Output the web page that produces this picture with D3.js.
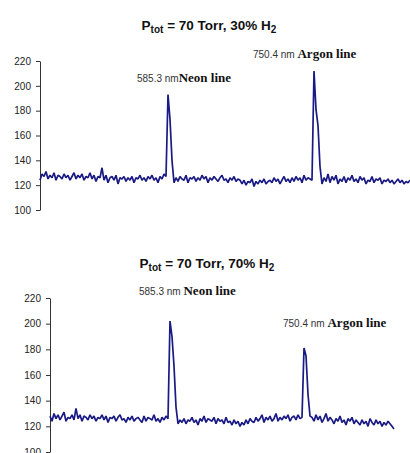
<!DOCTYPE html>
<html>
<head>
<meta charset="utf-8">
<script src="https://cdn.jsdelivr.net/npm/d3@7"></script>
<style>
  body { margin: 0; background: #fff; }
  svg { display: block; }
  .tick text { font-family: "Liberation Sans", Arial, sans-serif; font-size: 10px; fill: #222; }
  .domain, .tick line { stroke: #333; }
</style>
</head>
<body>
<svg id="chart" width="410" height="453"></svg>
<script>
// y ticks shared by both panels
const yTicks = [100, 120, 140, 160, 180, 200, 220];

// top panel: 30% H2 (one value per channel)
const signal30 = [
  124,129,127,131,125,128,126,130,124,128,127,
  125,129,126,128,124,127,130,125,128,126,
  129,124,127,126,130,125,128,123,127,126,
  134,124,128,122,126,
  127,124,128,121,126,125,127,123,126,124,127,122,126,125,128,
  124,126,123,127,125,128,124,126,122,127,125,129,127,
  193,173,140,122,
  126,123,127,125,124,128,122,126,125,127,123,126,124,128,125,127,122,126,124,127,125,123,126,128,124,125,122,126,124,127,123,125,124,
  121,124,120,123,122,125,119,123,121,124,122,125,121,123,124,122,126,123,125,121,124,127,123,125,122,
  126,123,127,124,126,122,128,124,126,125,
  124,212,181,168,135,121,
  126,123,129,122,127,124,128,121,125,123,127,122,126,124,128,123,125,122,127,124,126,121,124,123,127,122,125,124,126,121,124,123,125,122,124,121,123,125,122,124,121,123,122,124
];

// bottom panel: 70% H2
const signal70 = [
  128,124,130,126,129,125,128,131,124,127,126,129,125,
  134,
  126,129,124,128,127,125,129,126,128,124,127,126,129,125,128,123,127,
  126,128,124,127,129,125,126,123,127,125,128,124,126,127,125,123,128,
  124,127,126,125,129,124,126,123,127,125,128,126,
  202,190,167,135,122,
  125,123,126,122,125,124,127,123,125,121,126,124,128,123,126,125,124,127,122,126,124,125,122,127,123,124,121,125,122,124,120,
  123,121,125,122,126,124,123,127,124,126,129,123,127,125,128,124,126,130,124,127,125,128,126,129,124,127,128,125,129,126,127,
  181,175,145,128,
  127,124,129,125,128,123,126,130,124,127,125,122,126,124,128,123,125,121,126,124,127,122,125,123,121,125,122,124,120,126,123,121,125,122,124,120,123,121,124,122,120,118
];

const titles = [
  { main: "= 70 Torr, 30% H", sub: "2" },
  { main: "= 70 Torr, 70% H", sub: "2" }
];

const neonNm = "585.3 nm", argonNm = "750.4 nm";

const svg = d3.select("#chart");

function panel(opts) {
  const x = d3.scaleLinear()
    .domain([0, opts.data.length - 1])
    .range([opts.left, opts.right]);
  const y = d3.scaleLinear()
    .domain([100, 220])
    .range([opts.bottom, opts.top]);

  const g = svg.append("g");

  g.append("g")
    .attr("transform", `translate(${opts.left},0)`)
    .call(d3.axisLeft(y).tickValues(yTicks).tickSize(4).tickSizeOuter(0).tickPadding(5));

  const line = d3.line()
    .x((d, i) => x(i))
    .y(d => y(d));

  g.append("path")
    .datum(opts.data)
    .attr("fill", "none")
    .attr("stroke", "#1a1a84")
    .attr("stroke-width", 1.7)
    .attr("stroke-linejoin", "bevel")
    .attr("d", line);

  // title
  const t = g.append("text")
    .attr("x", opts.titleX)
    .attr("y", opts.titleY)
    .attr("text-anchor", "middle")
    .attr("font-family", "Liberation Sans, Arial, sans-serif")
    .attr("font-weight", "bold")
    .attr("font-size", 13.5)
    .attr("fill", "#111");
  t.append("tspan").text("P");
  t.append("tspan").attr("font-size", 10).attr("dy", 3).text("tot");
  t.append("tspan").attr("dy", -3).text(" " + opts.title.main);
  t.append("tspan").attr("font-size", 10).attr("dy", 3).text(opts.title.sub);

  // peak labels
  opts.labels.forEach(l => {
    const lt = g.append("text")
      .attr("x", l.x)
      .attr("y", l.y);
    lt.append("tspan")
      .attr("font-family", "Liberation Sans, Arial, sans-serif")
      .attr("font-size", 10)
      .attr("fill", "#333")
      .text(l.nm + (l.gap ? " " : ""));
    lt.append("tspan")
      .attr("font-family", "Liberation Serif, Times New Roman, serif")
      .attr("font-weight", "bold")
      .attr("font-size", 13)
      .attr("fill", "#111")
      .text(l.name);
  });
}

panel({
  data: signal30, left: 40, right: 410, top: 61, bottom: 210,
  title: titles[0], titleX: 209, titleY: 30,
  labels: [
    { nm: neonNm, name: "Neon line", x: 137, y: 82, gap: false },
    { nm: argonNm, name: "Argon line", x: 253, y: 58, gap: true }
  ]
});

panel({
  data: signal70, left: 50, right: 394, top: 298, bottom: 452,
  title: titles[1], titleX: 207, titleY: 268,
  labels: [
    { nm: neonNm, name: "Neon line", x: 139, y: 295, gap: true },
    { nm: argonNm, name: "Argon line", x: 283, y: 327, gap: true }
  ]
});
</script>
</body>
</html>
